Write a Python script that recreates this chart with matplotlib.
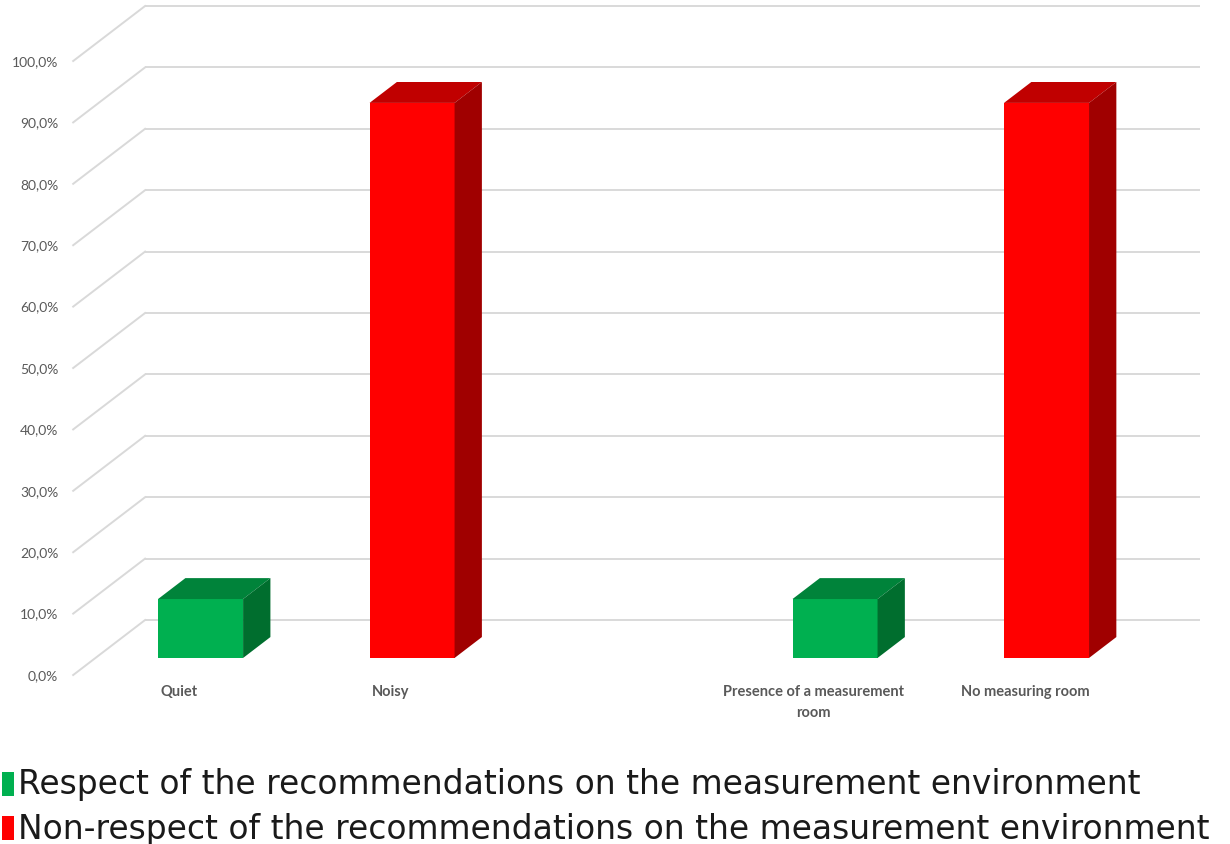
import matplotlib.pyplot as plt
from matplotlib.patches import Polygon, Rectangle

# data
categories = ['Quiet', 'Noisy', 'Presence of a measurement\nroom', 'No measuring room']
respect = [9.6, 0, 9.6, 0]
non_respect = [0, 90.4, 0, 90.4]
yticks = [0, 10, 20, 30, 40, 50, 60, 70, 80, 90, 100]
legend_labels = ['Respect of the recommendations on the measurement environment',
                 'Non-respect of the recommendations on the measurement environment']

# colours: front, top, side
greens = ('#00B050', '#00833A', '#006E2E')
reds = ('#FF0000', '#C00000', '#A00000')
grid_col = '#D9D9D9'
text_col = '#595959'

# pseudo 3D geometry (x in category slots, y in percent)
DX, DY = 0.340, 8.96          # back-to-front shift of the floor
D0, D1 = 0.31, 0.69           # bar depth span (0 = back wall, 1 = front)
BW = 0.402                    # bar width


def proj(x, y, d):
    return (x - d * DX, y - d * DY)


fig = plt.figure(figsize=(12.3, 8.45), dpi=100)
ax = fig.add_axes([0, 0, 1, 1])
ax.set_xlim(-0.982, 4.834)
ax.set_ylim(-36.48, 101.14)
ax.axis('off')

# back wall gridlines + depth diagonals
xl, xr = -0.296, 4.692
for t in yticks:
    ax.plot([xl, xr], [t, t], color=grid_col, lw=1.4, zorder=1, solid_capstyle='butt')
    fx, fy = proj(xl, t, 1)
    ax.plot([fx, xl], [fy, t], color=grid_col, lw=1.4, zorder=1)
    ax.text(fx - 0.07, fy, f'{t:.1f}%'.replace('.', ','), ha='right', va='center',
            fontsize=10, color=text_col, family='Lato')


def bar3d(x, h, cols):
    front, top, side = cols
    # front face
    p = [proj(x, 0, D1), proj(x + BW, 0, D1), proj(x + BW, h, D1), proj(x, h, D1)]
    ax.add_patch(Polygon(p, closed=True, fc=front, ec='none', zorder=3))
    # top face
    p = [proj(x, h, D1), proj(x + BW, h, D1), proj(x + BW, h, D0), proj(x, h, D0)]
    ax.add_patch(Polygon(p, closed=True, fc=top, ec='none', zorder=3))
    # right side face
    p = [proj(x + BW, 0, D1), proj(x + BW, 0, D0), proj(x + BW, h, D0), proj(x + BW, h, D1)]
    ax.add_patch(Polygon(p, closed=True, fc=side, ec='none', zorder=3))


for i, cat in enumerate(categories):
    slot = i + (1 if i >= 2 else 0)  # blank slot between the two groups
    if respect[i] > 0:
        bar3d(slot, respect[i], greens)
    if non_respect[i] > 0:
        bar3d(slot, non_respect[i], reds)
    ax.text(slot - 0.135, -10.4, cat, ha='center', va='top', fontsize=10.5,
            fontweight='bold', color=text_col, family='Lato', linespacing=1.65)

# legend
leg_y = [-26.7, -33.9]
for lab, col, y in zip(legend_labels, [greens[0], reds[0]], leg_y):
    ax.add_patch(Rectangle((-0.972, y - 1.9), 0.058, 3.8, fc=col, ec='none'))
    ax.text(-0.897, y, lab, ha='left', va='center', fontsize=23.7, color='#1a1a1a',
            family='DejaVu Sans')

fig.savefig('out.png', dpi=100)
